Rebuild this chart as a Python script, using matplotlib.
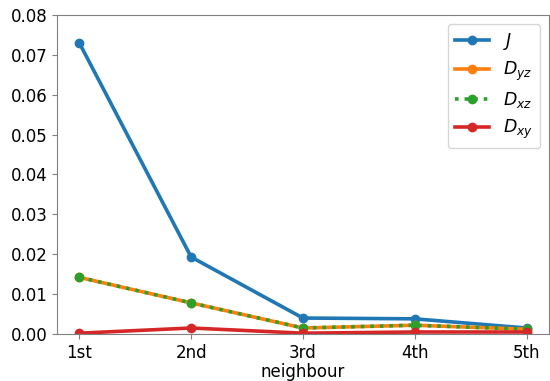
import numpy as np
import matplotlib
matplotlib.use("Agg")
import matplotlib.pyplot as plt

# neighbour shells
shells = ["1st", "2nd", "3rd", "4th", "5th"]

# coupling values
J = [0.0730, 0.0193, 0.0040, 0.0038, 0.0015]
Dyz = [0.0142, 0.0078, 0.0015, 0.0022, 0.0012]
Dxz = [0.0142, 0.0078, 0.0015, 0.0022, 0.0012]
Dxy = [0.0002, 0.0015, 0.0002, 0.0005, 0.0005]

plt.rcParams['font.size'] = 12

fig = plt.figure(figsize=(5.5, 3.81), dpi=100)
ax = fig.add_axes([0.1036, 0.1234, 0.8944, 0.8372])

x = np.arange(len(shells))
ax.plot(x, J, '-o', color='#1f77b4', lw=2.6, ms=6, label='$J$')
ax.plot(x, Dyz, '-o', color='#ff7f0e', lw=2.6, ms=6, label='$D_{yz}$')
ax.plot(x, Dxz, ':o', color='#2ca02c', lw=2.6, ms=6, label='$D_{xz}$')
ax.plot(x, Dxy, '-o', color='#d62728', lw=2.6, ms=6, label='$D_{xy}$')

ax.set_xticks(x)
ax.set_xticklabels(shells)
ax.set_ylim(0, 0.08)
ax.set_xlabel('neighbour', labelpad=1)

for s in ax.spines.values():
    s.set_color('#808080')
ax.tick_params(colors='#808080', labelcolor='black')

ax.legend(loc='upper right', fontsize=12.5, labelspacing=0.45)

fig.savefig('out.png', dpi=100)
